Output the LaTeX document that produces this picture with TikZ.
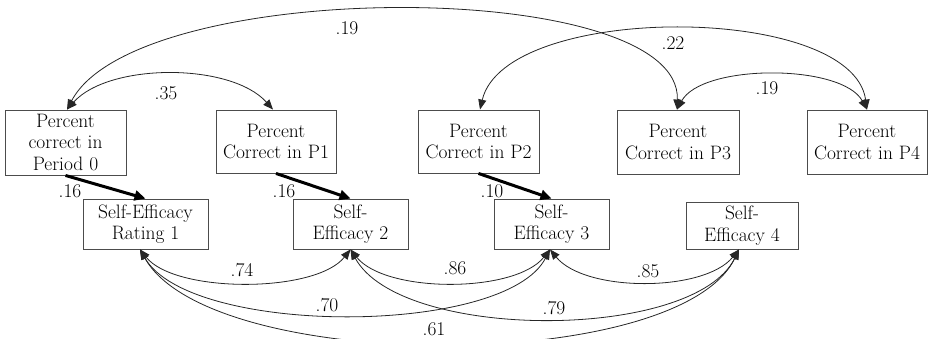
\documentclass[tikz,border=0pt]{standalone}
\usepackage{fontspec}
\usetikzlibrary{arrows.meta,calc}
\begin{document}
\begin{tikzpicture}[x=1bp,y=-1bp,
  box/.style={draw=black!70, line width=0.9bp, align=center, inner sep=0pt, font=\fontsize{19.5}{21.5}\selectfont},
  lbl/.style={font=\fontsize{19.5}{21}\selectfont, inner sep=0pt},
  cov/.style={line width=0.8bp, draw=black!85, {Triangle[length=10bp,width=8bp]}-{Triangle[length=10bp,width=8bp]}},
  reg/.style={line width=3bp, -{Triangle[length=11bp,width=10bp]}}]
\useasboundingbox (0,0) rectangle (928,338);
% top boxes
\node[box, minimum width=121bp, minimum height=65bp] (p0) at (65.5,142.5) {Percent\\correct in\\Period 0};
\node[box, minimum width=120bp, minimum height=63bp] (p1) at (276,141.5) {Percent\\Correct in P1};
\node[box, minimum width=121bp, minimum height=63bp] (p2) at (478.5,141.5) {Percent\\Correct in P2};
\node[box, minimum width=122bp, minimum height=64bp] (p3) at (678,142) {Percent\\Correct in P3};
\node[box, minimum width=120bp, minimum height=64bp] (p4) at (867,142) {Percent\\Correct in P4};
% bottom boxes
\node[box, minimum width=125bp, minimum height=50bp] (s1) at (145.5,224) {Self-Efficacy\\Rating 1};
\node[box, minimum width=115bp, minimum height=50bp] (s2) at (350.5,224) {Self-\\Efficacy 2};
\node[box, minimum width=115bp, minimum height=50bp] (s3) at (551.5,224) {Self-\\Efficacy 3};
\node[box, minimum width=112bp, minimum height=47bp] (s4) at (742,225.5) {Self-\\Efficacy 4};
% anchor points
\coordinate (t0) at ($(p0.north)+(1.5,0)$);
\coordinate (t1) at ($(p1.north)+(-3,0)$);
\coordinate (t2) at ($(p2.north)+(1.5,0)$);
\coordinate (t3) at ($(p3.north)+(-1,0)$);
\coordinate (t4) at (p4.north);
\coordinate (b1) at ($(s1.south)+(-5.5,0)$);
\coordinate (b2) at (s2.south);
\coordinate (b3) at ($(s3.south)+(-1.5,0)$);
\coordinate (b4) at ($(s4.south)+(-3,0)$);
% top covariances
\draw[cov] (t0) .. controls ($(t0)+(42,-47)$) and ($(t1)+(-42,-47)$) .. (t1);
\draw[cov] (t0) .. controls ($(t0)+(70,-133)$) and ($(t3)+(5,-133)$) .. (t3);
\draw[cov] (t2) .. controls ($(t2)+(25,-107)$) and ($(t4)+(-15,-107)$) .. (t4);
\draw[cov] (t3) .. controls ($(t3)+(25,-46)$) and ($(t4)+(-25,-46)$) .. (t4);
% regressions
\draw[reg] (p0.south) -- (s1.north);
\draw[reg] (p1.south) -- (s2.north);
\draw[reg] (p2.south) -- (s3.north);
% bottom covariances
\draw[cov] (b1) .. controls ($(b1)+(35,44)$) and ($(b2)+(-35,44)$) .. (b2);
\draw[cov] (b2) .. controls ($(b2)+(35,44)$) and ($(b3)+(-35,44)$) .. (b3);
\draw[cov] (b3) .. controls ($(b3)+(35,43)$) and ($(b4)+(-35,43)$) .. (b4);
\draw[cov] (b1) .. controls ($(b1)+(50,87)$) and ($(b3)+(-45,87)$) .. (b3);
\draw[cov] (b2) .. controls ($(b2)+(50,92)$) and ($(b4)+(-45,92)$) .. (b4);
\draw[cov] (b1) .. controls ($(b1)+(70,125)$) and ($(b4)+(-60,125)$) .. (b4);
% labels
\node[lbl] (l1) at (347,28) {.19};
\node[lbl] (l2) at (166,93) {.35};
\node[lbl] (l3) at (673,43) {.22};
\node[lbl] (l4) at (767,88) {.19};
\node[lbl] (l5) at (70,191) {.16};
\node[lbl] (l6) at (284,191) {.16};
\node[lbl] (l7) at (492,191) {.10};
\node[lbl] (l8) at (242,270) {.74};
\node[lbl] (l9) at (455,268) {.86};
\node[lbl] (l10) at (648,271) {.85};
\node[lbl] (l11) at (327,305) {.70};
\node[lbl] (l12) at (554,308) {.79};
\node[lbl] (l13) at (434,329) {.61};
\end{tikzpicture}
\end{document}
